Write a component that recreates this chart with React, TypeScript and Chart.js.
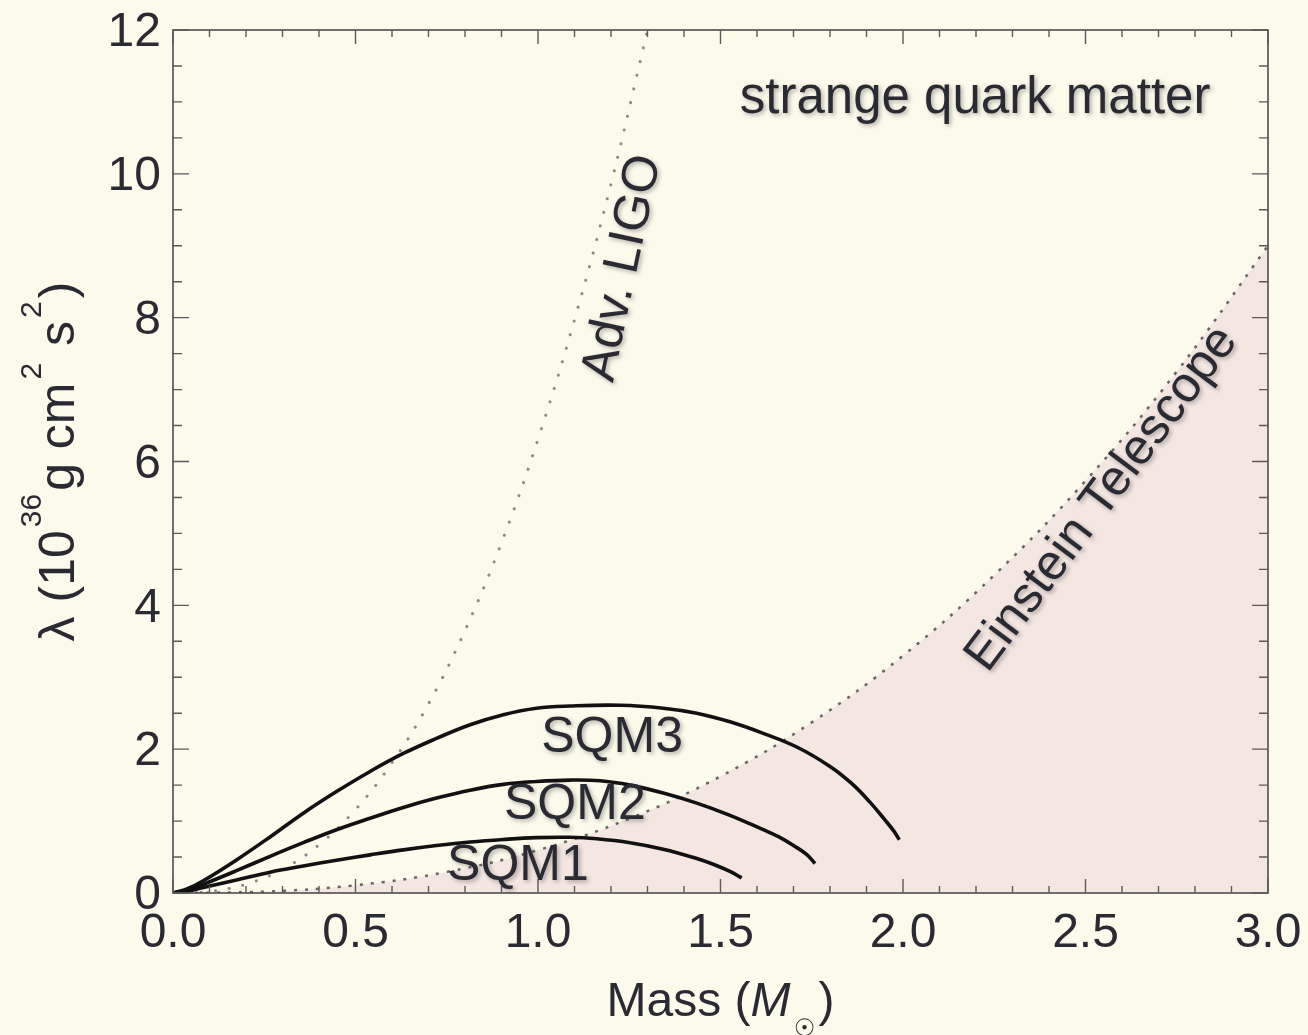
import React, { useEffect, useRef } from "react";
import { Chart, registerables } from "chart.js";

Chart.register(...registerables);

// ---------- data ----------
const SQM1_MASS = [0, 0.04, 0.083, 0.174, 0.266, 0.357, 0.448, 0.54, 0.631, 0.722, 0.814, 0.905, 0.996, 1.088, 1.161, 1.252, 1.343, 1.435, 1.48, 1.526, 1.558];
const SQM1_LAMBDA = [0, 0.025, 0.075, 0.18, 0.29, 0.375, 0.455, 0.53, 0.6, 0.66, 0.71, 0.745, 0.77, 0.775, 0.755, 0.7, 0.61, 0.48, 0.4, 0.3, 0.21];

const SQM2_MASS = [0, 0.04, 0.083, 0.174, 0.266, 0.357, 0.448, 0.54, 0.631, 0.722, 0.814, 0.905, 0.996, 1.088, 1.17, 1.252, 1.343, 1.435, 1.526, 1.617, 1.66, 1.7, 1.735, 1.759];
const SQM2_LAMBDA = [0, 0.04, 0.12, 0.31, 0.51, 0.7, 0.88, 1.04, 1.19, 1.32, 1.43, 1.51, 1.55, 1.57, 1.56, 1.5, 1.39, 1.25, 1.08, 0.88, 0.78, 0.66, 0.54, 0.41];

const SQM3_MASS = [0, 0.04, 0.083, 0.174, 0.266, 0.357, 0.448, 0.54, 0.631, 0.722, 0.814, 0.905, 0.996, 1.088, 1.225, 1.343, 1.435, 1.526, 1.617, 1.709, 1.8, 1.86, 1.91, 1.95, 1.975, 1.99];
const SQM3_LAMBDA = [0, 0.06, 0.17, 0.46, 0.78, 1.11, 1.41, 1.69, 1.94, 2.15, 2.34, 2.48, 2.57, 2.6, 2.61, 2.57, 2.5, 2.38, 2.22, 2.03, 1.76, 1.52, 1.26, 1.02, 0.86, 0.74];

const LIGO_MASS = [0, 0.1, 0.2, 0.3, 0.4, 0.5, 0.6, 0.7, 0.8, 0.9, 1.0, 1.1, 1.2, 1.3];
const LIGO_LAMBDA = [0, 0.022, 0.122, 0.33, 0.67, 1.16, 1.81, 2.63, 3.65, 4.87, 6.31, 7.97, 9.86, 12.0];

const ET_MASS = [0, 0.25, 0.5, 0.75, 1.0, 1.25, 1.5, 1.75, 2.0, 2.25, 2.5, 2.75, 3.0];
const ET_LAMBDA = [0, 0.019, 0.108, 0.293, 0.596, 1.034, 1.622, 2.373, 3.3, 4.42, 5.73, 7.25, 9.0];

const X_TICKS = [0, 0.5, 1.0, 1.5, 2.0, 2.5, 3.0];
const X_TICK_LABELS = ["0.0", "0.5", "1.0", "1.5", "2.0", "2.5", "3.0"];
const Y_TICKS = [0, 2, 4, 6, 8, 10, 12];
const Y_TICK_LABELS = ["0", "2", "4", "6", "8", "10", "12"];
const X_MINOR_STEP = 0.1;
const Y_MINOR_STEP = 0.5;

const LABELS = [
  { text: "strange quark matter", x: 1.553, y: 10.85, angle: 0, align: "left", base: "alphabetic", size: 51 },
  { text: "Adv. LIGO", x: 1.233, y: 8.69, angle: -78, align: "center", base: "middle", size: 50 },
  { text: "Einstein Telescope", x: 2.545, y: 5.48, angle: -53, align: "center", base: "middle", size: 50 },
  { text: "SQM3", x: 1.203, y: 2.156, angle: 0, align: "center", base: "middle", size: 50 },
  { text: "SQM2", x: 1.101, y: 1.22, angle: 0, align: "center", base: "middle", size: 50 },
  { text: "SQM1", x: 0.945, y: 0.376, angle: 0, align: "center", base: "middle", size: 50 },
];

// ---------- styles ----------
const BG = "#fcfaeb";
const FILL = "#f4e6e1";
const TEXT = "#2a2a33";
const FONT = '"Liberation Sans", Arial, Helvetica, sans-serif';

const pts = (xs: number[], ys: number[]) => xs.map((x, i) => ({ x, y: ys[i] }));

const decorPlugin = {
  id: "decor",
  beforeDraw(chart: any) {
    const ctx = chart.ctx;
    ctx.save();
    ctx.fillStyle = BG;
    ctx.fillRect(0, 0, chart.width, chart.height);
    ctx.restore();
  },
  afterDatasetsDraw(chart: any) {
    const ctx: CanvasRenderingContext2D = chart.ctx;
    const xs = chart.scales.x;
    const ys = chart.scales.y;
    const { left, right, top, bottom } = chart.chartArea;

    ctx.save();
    // frame
    ctx.strokeStyle = "#4d4d4d";
    ctx.lineWidth = 1.6;
    ctx.strokeRect(left, top, right - left, bottom - top);

    // ticks (inward, all four sides)
    ctx.strokeStyle = "#5a5a5a";
    ctx.lineWidth = 1.4;
    ctx.beginPath();
    for (let i = 0; i <= Math.round((xs.max - xs.min) / X_MINOR_STEP); i++) {
      const v = xs.min + i * X_MINOR_STEP;
      const px = xs.getPixelForValue(v);
      const major = X_TICKS.some((t) => Math.abs(t - v) < 1e-6);
      const len = major ? 14 : 7;
      ctx.moveTo(px, bottom);
      ctx.lineTo(px, bottom - len);
      ctx.moveTo(px, top);
      ctx.lineTo(px, top + len);
    }
    for (let i = 0; i <= Math.round((ys.max - ys.min) / Y_MINOR_STEP); i++) {
      const v = ys.min + i * Y_MINOR_STEP;
      const py = ys.getPixelForValue(v);
      const major = Y_TICKS.some((t) => Math.abs(t - v) < 1e-6);
      const len = major ? 16 : 9;
      ctx.moveTo(left, py);
      ctx.lineTo(left + len, py);
      ctx.moveTo(right, py);
      ctx.lineTo(right - len, py);
    }
    ctx.stroke();

    // tick labels
    ctx.fillStyle = TEXT;
    ctx.font = `48px ${FONT}`;
    ctx.textAlign = "center";
    ctx.textBaseline = "alphabetic";
    X_TICKS.forEach((t, i) => {
      ctx.fillText(X_TICK_LABELS[i], xs.getPixelForValue(t), bottom + 54);
    });
    ctx.textAlign = "right";
    ctx.textBaseline = "middle";
    Y_TICKS.forEach((t, i) => {
      ctx.fillText(Y_TICK_LABELS[i], left - 12, ys.getPixelForValue(t) + 3);
    });

    // x title: Mass (M_sun)
    ctx.textBaseline = "alphabetic";
    ctx.textAlign = "left";
    const base = 1016;
    ctx.font = `48px ${FONT}`;
    const p1 = "Mass (";
    const w1 = ctx.measureText(p1).width;
    ctx.font = `italic 48px ${FONT}`;
    const wM = ctx.measureText("M").width;
    ctx.font = `48px ${FONT}`;
    const wP = ctx.measureText(")").width;
    const gapSun = 28;
    const total = w1 + wM + gapSun + wP;
    const cx = (left + right) / 2;
    const x0 = cx - total / 2;
    ctx.fillText(p1, x0, base);
    ctx.font = `italic 48px ${FONT}`;
    ctx.fillText("M", x0 + w1, base);
    ctx.font = `24px "DejaVu Sans", sans-serif`;
    ctx.textAlign = "center";
    ctx.textBaseline = "middle";
    ctx.fillText("\u2609", x0 + w1 + wM + 14, base + 14);
    ctx.textAlign = "left";
    ctx.textBaseline = "alphabetic";
    ctx.font = `48px ${FONT}`;
    ctx.fillText(")", x0 + w1 + wM + gapSun, base);

    // y title: λ (10^36 g cm^2 s^2)
    const segs = [
      { t: "\u03bb (10", sup: false },
      { t: "36", sup: true },
      { t: "g cm", sup: false },
      { t: "2", sup: true },
      { t: " s", sup: false },
      { t: "2", sup: true },
      { t: ")", sup: false },
    ];
    const mainF = `50px ${FONT}`;
    const supF = `30px ${FONT}`;
    let tw = 0;
    const widths = segs.map((s) => {
      ctx.font = s.sup ? supF : mainF;
      const w = ctx.measureText(s.t).width + (s.sup ? 6 : 0);
      tw += w;
      return w;
    });
    const cy = (top + bottom) / 2;
    ctx.save();
    ctx.translate(74, cy + tw / 2);
    ctx.rotate(-Math.PI / 2);
    let pos = 0;
    segs.forEach((s, i) => {
      ctx.font = s.sup ? supF : mainF;
      ctx.fillText(s.t, pos + (s.sup ? 3 : 0), s.sup ? -33 : 0);
      pos += widths[i];
    });
    ctx.restore();

    // annotations
    ctx.shadowColor = "rgba(40,40,40,0.35)";
    ctx.shadowBlur = 4;
    ctx.shadowOffsetX = 2;
    ctx.shadowOffsetY = 2;
    LABELS.forEach((l) => {
      ctx.save();
      ctx.font = `${l.size}px ${FONT}`;
      ctx.translate(xs.getPixelForValue(l.x), ys.getPixelForValue(l.y));
      ctx.rotate((l.angle * Math.PI) / 180);
      ctx.textAlign = l.align as CanvasTextAlign;
      ctx.textBaseline = l.base as CanvasTextBaseline;
      ctx.fillText(l.text, 0, 0);
      ctx.restore();
    });
    ctx.restore();
  },
};

export default function App() {
  const ref = useRef<HTMLCanvasElement>(null);
  useEffect(() => {
    const canvas = ref.current;
    if (!canvas) return;
    const solid = (label: string, xs: number[], ys: number[]) => ({
      label,
      data: pts(xs, ys),
      borderColor: "#111111",
      borderWidth: 3.6,
      borderJoinStyle: "round",
      pointRadius: 0,
      tension: 0.4,
      fill: false,
      order: 1,
    });
    const chart = new Chart(canvas, {
      type: "line",
      data: {
        datasets: [
          solid("SQM3", SQM3_MASS, SQM3_LAMBDA),
          solid("SQM2", SQM2_MASS, SQM2_LAMBDA),
          solid("SQM1", SQM1_MASS, SQM1_LAMBDA),
          {
            label: "Adv. LIGO",
            data: pts(LIGO_MASS, LIGO_LAMBDA),
            borderColor: "#8a8a8a",
            borderWidth: 3,
            borderDash: [0.1, 14],
            borderCapStyle: "round",
            pointRadius: 0,
            tension: 0.4,
            fill: false,
            order: 2,
          },
          {
            label: "Einstein Telescope",
            data: pts(ET_MASS, ET_LAMBDA),
            borderColor: "#666666",
            borderWidth: 2.5,
            borderDash: [3, 8],
            pointRadius: 0,
            tension: 0.4,
            fill: "origin",
            backgroundColor: FILL,
            order: 3,
          },
        ] as any,
      },
      options: {
        responsive: false,
        animation: false,
        events: [],
        layout: { padding: { left: 173, right: 40, top: 30, bottom: 142 } },
        plugins: { legend: { display: false }, tooltip: { enabled: false } },
        scales: {
          x: { type: "linear", min: 0, max: 3, display: false },
          y: { type: "linear", min: 0, max: 12, display: false },
        },
      },
      plugins: [decorPlugin],
    });
    return () => chart.destroy();
  }, []);
  return (
    <div style={{ position: "absolute", left: 0, top: 0, width: 1308, height: 1035, background: BG }}>
      <canvas ref={ref} width={1308} height={1035} style={{ display: "block", width: 1308, height: 1035 }} />
    </div>
  );
}
